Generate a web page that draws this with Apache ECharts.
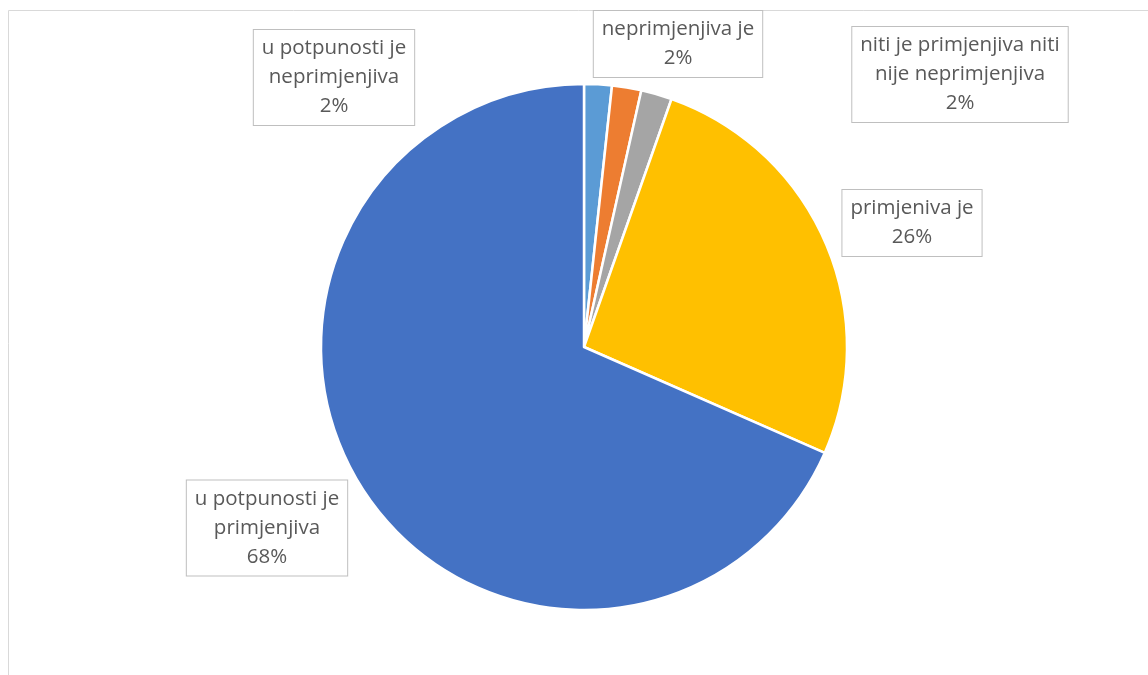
<!DOCTYPE html>
<html>
<head>
<meta charset="utf-8">
<script src="https://cdn.jsdelivr.net/npm/echarts@6/dist/echarts.min.js"></script>
<style>
  html, body { margin: 0; padding: 0; background: #fff; }
  #chart { width: 1148px; height: 675px; }
</style>
</head>
<body>
<div id="chart"></div>
<script>
// categories clockwise from 12 o'clock
const categories = [
  'u potpunosti je\nneprimjenjiva',
  'neprimjenjiva je',
  'niti je primjenjiva niti\nnije neprimjenjiva',
  'primjeniva je',
  'u potpunosti je\nprimjenjiva'
];
const shares = [1.7, 1.8, 1.9, 26.2, 68.4];
const colors = ['#5B9BD5', '#ED7D31', '#A5A5A5', '#FFC000', '#4472C4'];

// label box centres (layout only)
const labelSpots = [[334, 77.5], [678, 44], [960, 74.5], [912, 223], [267, 528]];

const chart = echarts.init(document.getElementById('chart'));

chart.setOption({
  animation: false,
  graphic: [{
    type: 'rect',
    shape: { x: 8.5, y: 10.5, width: 1300, height: 800 },
    style: { fill: 'none', stroke: '#d9d9d9', lineWidth: 1 },
    silent: true
  }],
  series: [{
    type: 'pie',
    center: [584, 347],
    radius: [0, 263],
    startAngle: 90,
    clockwise: true,
    data: categories.map((name, i) => ({
      name: name,
      value: shares[i],
      itemStyle: { color: colors[i] }
    })),
    itemStyle: { borderColor: '#fff', borderWidth: 2.5 },
    label: {
      show: true,
      position: 'outside',
      formatter: p => p.name + '\n' + Math.round(p.percent) + '%',
      fontFamily: 'Open Sans',
      fontSize: 20.5,
      lineHeight: 29,
      color: '#595959',
      align: 'center',
      backgroundColor: '#fff',
      borderColor: '#bfbfbf',
      borderWidth: 1,
      padding: [4, 8, 4, 8]
    },
    labelLine: { show: false },
    labelLayout: p => ({
      x: labelSpots[p.dataIndex][0],
      y: labelSpots[p.dataIndex][1],
      align: 'center',
      verticalAlign: 'middle'
    }),
    emphasis: { disabled: true }
  }]
});
</script>
</body>
</html>
